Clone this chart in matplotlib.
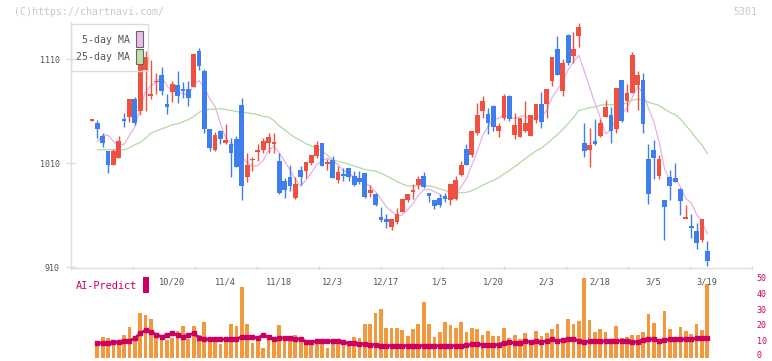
import numpy as np
import pandas as pd
import matplotlib
matplotlib.use("Agg")
import matplotlib.pyplot as plt
from matplotlib.patches import Rectangle
from matplotlib.transforms import blended_transform_factory, offset_copy

plt.rcParams["font.family"] = ["DejaVu Sans Mono", "DejaVu Sans"]

nan = np.nan

# daily candles, oldest first (yen)
opens = [1051, 1049, 1036, 1022, 1008, 1015, 1053, 1055, 1072, 1060,
         1100, 1075, 1088, 1095, 1067, 1079, 1085, 1081, 1081, 1083,
         1118, 1099, 1043, 1023, 1041, 1030, 1029, 1033, 1066, 997,
         1013, 1021, 1023, 1030, 1029, 1012, 993, 997, 977, 1004,
         1003, 1010, 1017, 1030, 1009, 1013, 994, 1000, 1005, 998,
         996, 1001, 981, 980, 958, 956, 949, 954, 963, 975,
         982, 989, 998, 981, 975, 977, 979, 975, 976, 999,
         1024, 1018, 1039, 1060, 1057, 1065, 1041, 1054, 1075, 1037,
         1035, 1041, 1036, 1052, 1067, 1067, 1089, 1120, 1080, 1133,
         1113, 1132, 1030, 1023, 1031, 1036, 1055, 1056, 1043, 1090,
         1070, 1078, 1085, 1090, 1014, 1023, 998, 975, 997, 996,
         985, 957, 950, 945, 936, 926]
highs = [1052, 1052, 1039, 1022, 1024, 1036, 1058, 1072, 1074, 1118,
         1118, 1109, 1097, 1103, 1077, 1089, 1099, 1088, 1089, 1115,
         1121, 1101, 1043, 1040, 1042, 1048, 1034, 1036, 1073, 1020,
         1016, 1029, 1034, 1039, 1039, 1020, 996, 1008, 997, 1007,
         1011, 1018, 1031, 1030, 1014, 1017, 1007, 1005, 1005, 1003,
         1003, 1001, 989, 981, 968, 961, 956, 967, 976, 980,
         990, 998, 1002, 981, 975, 980, 981, 990, 998, 1012,
         1029, 1041, 1068, 1075, 1063, 1066, 1049, 1077, 1076, 1058,
         1054, 1070, 1056, 1067, 1079, 1081, 1112, 1132, 1110, 1134,
         1136, 1145, 1049, 1044, 1053, 1053, 1071, 1064, 1082, 1090,
         1086, 1117, 1099, 1097, 1029, 1032, 1018, 975, 1004, 1010,
         986, 970, 961, 953, 956, 935]
lows = [1051, 1034, 1026, 1001, 1008, 1015, 1045, 1050, 1047, 1056,
        1060, 1072, 1077, 1076, 1057, 1069, 1068, 1073, 1065, 1083,
        1100, 1039, 1022, 1022, 1029, 1029, 997, 1006, 975, 992,
        1003, 1012, 1020, 1020, 1020, 980, 977, 983, 976, 989,
        996, 1008, 1015, 1007, 1004, 996, 991, 993, 993, 988,
        990, 977, 978, 969, 954, 948, 946, 952, 963, 973,
        976, 985, 986, 973, 966, 968, 973, 970, 975, 998,
        1008, 1016, 1037, 1054, 1038, 1041, 1035, 1052, 1051, 1033,
        1035, 1040, 1036, 1049, 1044, 1054, 1084, 1095, 1075, 1105,
        1106, 1122, 1016, 1006, 1028, 1035, 1055, 1030, 1039, 1050,
        1059, 1078, 1061, 1039, 971, 995, 995, 936, 975, 992,
        960, 957, 938, 928, 934, 911]
closes = [1052, 1043, 1030, 1008, 1022, 1031, 1051, 1072, 1049, 1112,
          1112, 1077, 1089, 1080, 1064, 1086, 1075, 1080, 1073, 1115,
          1104, 1043, 1025, 1037, 1033, 1032, 1020, 1006, 988, 1008,
          1014, 1023, 1031, 1035, 1030, 981, 984, 988, 990, 997,
          1011, 1018, 1028, 1007, 1011, 996, 1002, 998, 997, 989,
          992, 978, 984, 970, 955, 954, 956, 961, 976, 980,
          984, 995, 987, 979, 969, 970, 976, 990, 994, 1008,
          1008, 1041, 1056, 1070, 1049, 1045, 1046, 1075, 1053, 1047,
          1054, 1049, 1056, 1067, 1050, 1081, 1112, 1095, 1106, 1106,
          1120, 1141, 1022, 1028, 1029, 1049, 1064, 1041, 1082, 1051,
          1078, 1114, 1095, 1048, 980, 1015, 1014, 968, 988, 992,
          974, 958, 948, 933, 956, 916]

# moving-average values before enough closes are on the chart
ma5_head = [nan, 1031, 1037, 1037]
ma25_head = [nan, 1023, 1023, 1023, 1023, 1023, 1023, 1025, 1028, 1030,
             1034, 1039, 1041, 1043, 1045, 1047, 1048, 1050, 1052, 1055,
             1059, 1061, 1062, 1062]

# lower panel (right-hand scale)
volume = [nan, 7.9, 12.9, 12.1, 9.6, 7.9, 14.2, 19.6, 13.3, 28.0,
          26.7, 24.2, 14.2, 11.6, 11.0, 12.3, 16.9, 19.8, 11.6, 19.8,
          14.6, 22.5, 11.6, 11.0, 8.5, 11.6, 21.1, 19.8, 44.3, 21.1,
          9.4, 10.9, 6.4, 12.1, 9.7, 20.4, 11.6, 11.6, 14.6, 11.0,
          9.1, 7.9, 10.6, 9.9, 6.4, 8.5, 10.6, 7.9, 8.5, 12.9,
          12.1, 21.1, 21.1, 28.0, 30.5, 18.6, 18.6, 18.6, 17.3, 13.7,
          17.9, 21.1, 35.1, 21.1, 12.9, 16.2, 22.5, 20.4, 18.6, 22.5,
          16.2, 18.6, 17.9, 14.2, 16.9, 13.5, 13.5, 18.5, 12.1, 14.2,
          11.6, 15.4, 9.6, 16.7, 13.5, 15.4, 17.9, 21.1, 11.2, 24.2,
          21.1, 23.0, 50.0, 23.6, 16.0, 17.9, 16.0, 11.6, 19.8, 12.3,
          12.9, 14.2, 14.2, 16.0, 27.4, 21.7, 11.6, 29.2, 17.9, 11.6,
          19.2, 16.7, 14.8, 21.1, 17.3, 46.2]
ai_predict = [nan, 9.1, 9.1, 9.1, 9.6, 9.9, 10.8, 10.8, 12.1, 15.4,
              17.3, 16.2, 14.6, 13.3, 14.2, 15.4, 14.2, 13.3, 14.2, 15.4,
              12.7, 11.6, 11.6, 11.6, 11.6, 11.6, 11.6, 11.6, 13.3, 13.3,
              12.9, 12.5, 14.2, 13.1, 11.6, 12.5, 12.3, 12.1, 11.8, 11.6,
              10.2, 9.6, 10.6, 10.4, 10.4, 10.4, 10.4, 9.6, 9.1, 9.1,
              8.8, 8.5, 8.3, 8.1, 7.5, 7.5, 7.5, 7.5, 7.5, 7.5,
              7.5, 7.5, 7.5, 7.5, 7.5, 7.5, 7.5, 7.5, 7.5, 7.5,
              7.7, 8.5, 8.7, 8.1, 7.9, 8.1, 8.3, 9.5, 9.9, 9.1,
              9.1, 10.6, 9.6, 10.6, 9.9, 10.6, 11.6, 10.4, 11.2, 11.6,
              11.6, 10.8, 9.9, 10.4, 10.4, 10.4, 10.4, 10.8, 10.8, 10.6,
              10.6, 9.6, 10.2, 11.2, 11.6, 11.6, 10.4, 11.2, 11.6, 11.6,
              11.6, 11.6, 11.6, 12.3, 12.5, 12.1]

date_pos = [15, 25, 35, 45, 55, 65, 75, 85, 95, 105, 115]
date_labels = ["10/20", "11/4", "11/18", "12/3", "12/17", "1/5",
               "1/20", "2/3", "2/18", "3/5", "3/19"]
price_ticks = [910, 1010, 1110]
vol_ticks = [0, 10, 20, 30, 40, 50]

RED = "#f0503f"; BLUE = "#3f7eee"; ORANGE = "#f2993f"; CRIMSON = "#cc0060"
PINK = "#e8b0e8"; GREEN = "#b3d9a3"; AXIS = "#dddddd"; LABEL = "#555555"

W, H = 772, 361


def box(l, t, r, b):
    return [l / W, 1 - b / H, (r - l) / W, (b - t) / H]


o = np.array(opens, float); c = np.array(closes, float)
hi = np.array(highs, float); lo = np.array(lows, float)
x = np.arange(len(o))
s = pd.Series(c)
ma5 = s.rolling(5).mean().to_numpy()
ma5[:len(ma5_head)] = ma5_head
ma25 = s.rolling(25).mean().to_numpy()
ma25[:len(ma25_head)] = ma25_head

fig = plt.figure(figsize=(W / 100, H / 100), dpi=100)
fig.patch.set_facecolor("white")
ax = fig.add_axes(box(70.7, 22, 752.3, 268))
axv = fig.add_axes(box(70.7, 268, 752.3, 361))
over = fig.add_axes([0, 0, 1, 1], zorder=5)
over.set_xlim(0, W); over.set_ylim(H, 0); over.axis("off")
over.patch.set_alpha(0)

x0, step = 92.0, 5.35
xlim = ((70.7 - x0) / step, (752.3 - x0) / step)

# candles
col = np.where(c >= o, RED, BLUE)
ax.vlines(x, lo, hi, colors=col, lw=1.0, zorder=3)
body = np.abs(c - o)
hgt = np.maximum(body, 1.3)
bottom = np.minimum(o, c) - (hgt - body) / 2
ax.bar(x, hgt, bottom=bottom, width=0.88, color=col, lw=0, zorder=4)
ax.plot(x, ma5, color=PINK, lw=0.9, zorder=2)
ax.plot(x, ma25, color=GREEN, lw=0.9, zorder=2)

ax.set_xlim(*xlim)
ax.set_ylim(909.3, 1145.9)
for sp in ("top", "right"):
    ax.spines[sp].set_visible(False)
for sp in ("left", "bottom"):
    ax.spines[sp].set_color(AXIS)
    ax.spines[sp].set_linewidth(1.0)
ax.set_yticks(price_ticks)
ax.tick_params(axis="y", direction="inout", length=6.5, width=0.9, color=AXIS,
               labelsize=6, labelcolor=LABEL, pad=4.5)
ax.set_xticks(np.linspace(xlim[0], xlim[1], 12))
ax.set_xticklabels([])
ax.tick_params(axis="x", direction="inout", length=3.5, width=0.9, color=AXIS)
ax.patch.set_alpha(0)

# volume + AI-Predict
vpx = 1.588          # pixels per unit on the right-hand scale
base = 357.7         # pixel row of 0
axv.bar(x, volume, width=0.7, color=ORANGE, lw=0, zorder=2)
axv.plot(x, ai_predict, color=CRIMSON, lw=2.0, marker="s", ms=2.2, zorder=3)
axv.set_xlim(*xlim)
axv.set_ylim(-(361 - base) / vpx, (base - 268) / vpx)
axv.axis("off")
tr = blended_transform_factory(axv.transAxes, axv.transData)
tr0 = offset_copy(tr, fig=fig, x=0, y=2, units="dots")
for v in vol_ticks:
    axv.text(1.0065, v, str(v), transform=tr0 if v == 0 else tr, ha="left",
             va="center", fontsize=6, color=CRIMSON, clip_on=False)
trd = blended_transform_factory(axv.transData, axv.transAxes)
for p, lab in zip(date_pos, date_labels):
    axv.text(p, (361 - 282.4) / 93, lab, transform=trd, ha="center",
             va="center", fontsize=6.2, color=LABEL, zorder=5)

# header, legend, AI label
over.text(14, 12, "(C)https://chartnavi.com/", fontsize=7.1, color="#c8c8c8",
          ha="left", va="center")
over.text(757, 12, "5301", fontsize=7.1, color="#c8c8c8", ha="right", va="center")
over.add_patch(Rectangle((70.7, 24.3), 77.6, 46.7, fill=False, ec=AXIS, lw=1.0))
over.text(129.5, 40, "5-day MA", fontsize=7.1, color=LABEL, ha="right", va="center")
over.text(129.5, 57.3, "25-day MA", fontsize=7.1, color=LABEL, ha="right", va="center")
over.add_patch(Rectangle((136.3, 31.3), 6.3, 15.3, fc="#ecbcec", ec="#666666", lw=0.8))
over.add_patch(Rectangle((136.3, 48.5), 6.3, 15.0, fc="#c0e0b0", ec="#666666", lw=0.8))
over.text(76, 286, "AI-Predict", fontsize=7.4, color=CRIMSON, ha="left", va="center")
over.add_patch(Rectangle((142.5, 277.3), 6.3, 15.4, fc=CRIMSON, lw=0))

fig.savefig("out.png", dpi=100, facecolor="white")
